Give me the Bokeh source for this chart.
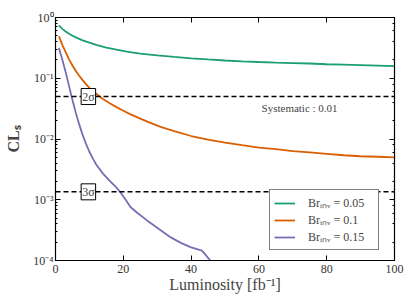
from bokeh.plotting import figure
from bokeh.models import (LinearAxis, LogAxis, Label, Span, Legend, LegendItem,
                          CustomJSTickFormatter, FixedTicker, LogTicker)
from bokeh.embed import file_html
from bokeh.resources import INLINE

# ---- data ----
lum_a = [1, 2, 3, 4, 5, 6, 8, 10, 12, 15, 18, 21, 25, 30, 35, 40, 45, 50, 55, 60,
         65, 70, 75, 80, 85, 90, 95, 100]
cls_005 = [0.74, 0.65, 0.59, 0.54, 0.50, 0.47, 0.42, 0.385, 0.355, 0.32, 0.295, 0.275,
           0.255, 0.238, 0.224, 0.213, 0.204, 0.196, 0.190, 0.185, 0.181, 0.178, 0.175,
           0.170, 0.167, 0.164, 0.161, 0.158]

lum_b = [1, 2, 3, 4, 5, 6, 7, 8, 9, 10, 12, 14, 16, 18, 20, 22, 25, 28, 31, 35, 40, 45,
         50, 55, 60, 65, 70, 75, 80, 85, 90, 95, 100]
cls_01 = [0.49, 0.355, 0.27, 0.205, 0.162, 0.132, 0.11, 0.093, 0.080, 0.0692, 0.0556,
          0.0457, 0.0389, 0.0335, 0.0292, 0.0257, 0.0216, 0.0184, 0.0158, 0.0135, 0.0112,
          0.0098, 0.0087, 0.0079, 0.0072, 0.0068, 0.0063, 0.0060, 0.0057, 0.0054, 0.0052,
          0.0051, 0.0050]

lum_c = [1, 2, 3, 4, 5, 6, 7, 8, 9, 10, 11, 12, 14, 16, 18, 19.3, 20.7, 22.1, 24, 27,
         30, 34, 37, 39.8, 43.2, 45.7, 49.6, 51]
cls_015 = [0.316, 0.204, 0.126, 0.0741, 0.0437, 0.0269, 0.0174, 0.0117, 0.0083, 0.00617,
           0.00479, 0.0038, 0.00269, 0.00204, 0.00158, 0.00129, 0.001, 0.000759, 0.000617,
           0.000457, 0.000347, 0.00024, 0.000195, 0.000166, 0.000145, 0.0000995,
           0.0000985, 0.00004]

series_labels = ["Brᵢₙᵥ = 0.05", "Brᵢₙᵥ = 0.1", "Brᵢₙᵥ = 0.15"]
series_colors = ["#1b9e77", "#d95f02", "#7570b3"]

sigma_levels = [0.05, 0.00135]
sigma_labels = ["2σ", "3σ"]
sigma_label_x = 9.7
syst_text = "Systematic : 0.01"
syst_pos = (72, 0.033)

x_ticks = [0, 20, 40, 60, 80, 100]

FONT = "Liberation Serif"

p = figure(frame_width=339, frame_height=243, y_axis_type="log", x_range=(0, 100),
           y_range=(1e-4, 1), output_backend="svg", toolbar_location=None,
           min_border_left=55, min_border_right=14, min_border_top=17,
           min_border_bottom=40)
p.xgrid.visible = False
p.ygrid.visible = False
p.outline_line_color = "black"
p.outline_line_width = 1.2

sup_fmt = CustomJSTickFormatter(code="""
const m = {'-':'⁻','0':'⁰','1':'¹','2':'²','3':'³','4':'⁴','5':'⁵','6':'⁶','7':'⁷','8':'⁸','9':'⁹'};
const e = Math.round(Math.log10(tick)).toString();
return '10' + e.split('').map(c => m[c]).join('');
""")

xa = p.xaxis[0]
xa.ticker = FixedTicker(ticks=x_ticks)
xa.axis_label = "Luminosity [fb⁻¹]"
ya = p.yaxis[0]
ya.formatter = sup_fmt
ya.axis_label = "CLₛ"

for ax in (xa, ya):
    ax.major_tick_in = 5
    ax.major_tick_out = 0
    ax.minor_tick_in = 2
    ax.minor_tick_out = 0
    ax.major_label_text_font = FONT
    ax.major_label_text_font_size = "12px"
    ax.major_label_text_color = "#333333"
    ax.axis_label_text_font = FONT
    ax.axis_label_text_font_size = "16px"
    ax.axis_label_text_font_style = "normal"
    ax.axis_line_color = "black"
    ax.major_tick_line_color = "black"
    ax.minor_tick_line_color = "black"
ya.axis_label_text_font_style = "bold"
xa.minor_tick_line_color = None
xa.major_label_standoff = 4
xa.axis_label_standoff = 0
ya.major_label_standoff = 2
ya.axis_label_standoff = 8

top = LinearAxis(ticker=FixedTicker(ticks=x_ticks), major_label_text_font_size="1px",
                 major_label_text_alpha=0, major_tick_in=5, major_tick_out=0,
                 minor_tick_line_color=None, major_label_standoff=0)
p.add_layout(top, "above")
right = LogAxis(ticker=LogTicker(), major_label_text_font_size="1px",
                major_label_text_alpha=0, major_tick_in=5, major_tick_out=0,
                minor_tick_in=2, minor_tick_out=0, major_label_standoff=0)
p.add_layout(right, "right")

rends = []
for xs, ys, col in zip([lum_a, lum_b, lum_c], [cls_005, cls_01, cls_015], series_colors):
    r = p.line(xs, ys, line_color=col, line_width=1.8)
    rends.append(r)

for lvl, lab in zip(sigma_levels, sigma_labels):
    p.add_layout(Span(location=lvl, dimension="width", line_color="black",
                      line_width=1.5, line_dash="5 3"))
    p.add_layout(Label(x=sigma_label_x, y=lvl, text=lab, text_align="center",
                       text_baseline="middle", text_font=FONT, text_font_size="12px",
                       background_fill_color="white", border_line_color="black",
                       border_line_width=1, padding=1))

p.add_layout(Label(x=syst_pos[0], y=syst_pos[1], text=syst_text, text_align="center",
                   text_baseline="middle", text_font=FONT, text_font_size="11px"))

legend = Legend(items=[LegendItem(label=l, renderers=[r]) for l, r in zip(series_labels, rends)],
                location=(214, 10), border_line_color="black", border_line_width=1,
                background_fill_color="white", background_fill_alpha=1,
                label_text_font=FONT, label_text_font_size="12px",
                glyph_width=21, glyph_height=10, label_height=10, label_width=66,
                spacing=0, padding=4, label_standoff=13, margin=0)
p.add_layout(legend)

open("out.html", "w").write(file_html(p, INLINE))
